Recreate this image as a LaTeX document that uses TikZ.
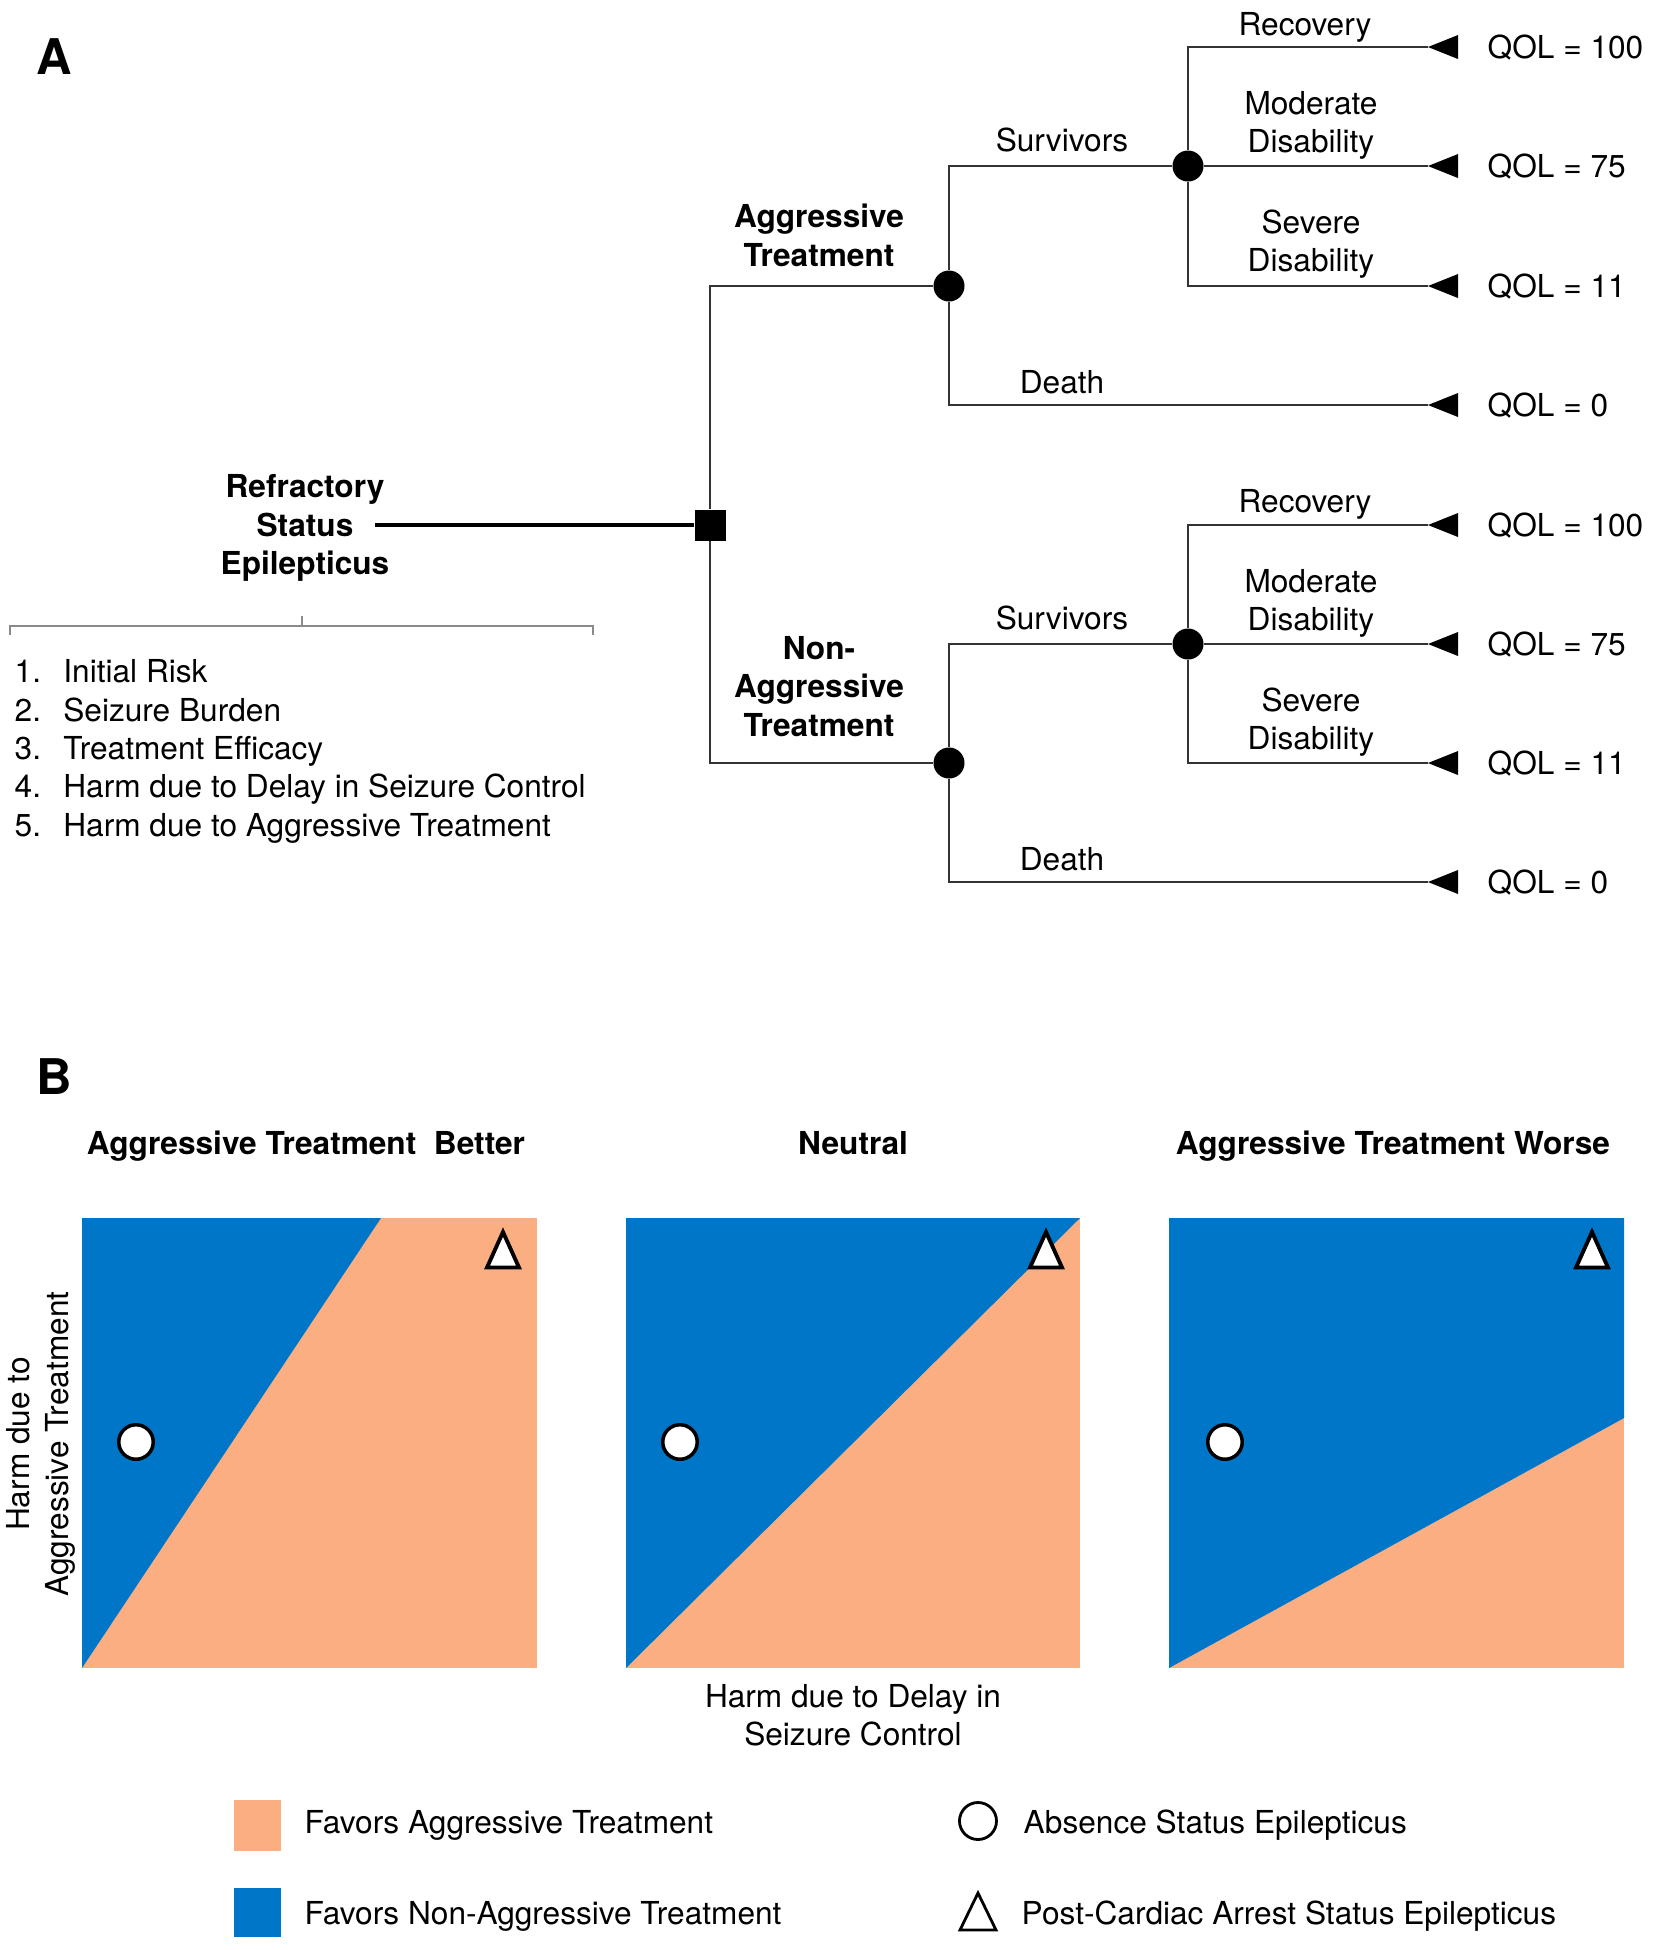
\documentclass[tikz,border=0pt]{standalone}
\usepackage{fontspec}
\setmainfont{TeX Gyre Heros}

\definecolor{favagg}{HTML}{FCAE83}
\definecolor{favnon}{HTML}{0076C8}
\definecolor{linegray}{HTML}{333333}
\definecolor{bracketgray}{HTML}{8A8A8A}

\begin{document}
\begin{tikzpicture}[
    lbl/.style={font=\fontsize{9}{10.9}\selectfont, inner sep=0pt},
    blbl/.style={font=\fontsize{9}{10.9}\selectfont\bfseries, inner sep=0pt},
    plabel/.style={font=\fontsize{14}{16}\selectfont\bfseries, inner sep=0pt},
    decision/.style={rectangle, fill=black, minimum size=0.31cm, inner sep=0pt},
    chance/.style={circle, fill=black, minimum size=0.31cm, inner sep=0pt},
    arm/.style={draw=linegray, line width=0.6pt},
    rootline/.style={draw=black, line width=1pt},
    bracket/.style={draw=bracketgray, line width=0.45pt},
    pcircle/.style={circle, draw=black, fill=white, line width=1pt, minimum size=0.345cm, inner sep=0pt},
    ptri/.style={draw=black, fill=white, line width=1.1pt},
    lcircle/.style={circle, draw=black, line width=0.8pt, minimum size=0.37cm, inner sep=0pt},
    ltri/.style={draw=black, line width=0.8pt}
]
            \useasboundingbox (0,0) rectangle (16.57,-19.50);

            % Panel A
            \node[plabel] (lblA) at (0.54,-0.57) {A};

            % Root and decision node
            \node[blbl, align=center] (rse) at (3.05,-5.28) {Refractory\\Status\\Epilepticus};
            \node[decision] (dec) at (7.10,-5.25) {};
            \coordinate (rseout) at ([xshift=-1.5mm]rse.east |- dec);

            % Chance nodes
            \node[chance] (agg) at (9.49,-2.86) {};
            \node[chance] (aggsurv) at (11.88,-1.66) {};
            \node[chance] (non) at (9.49,-7.63) {};
            \node[chance] (nonsurv) at (11.88,-6.44) {};

            % Terminal points
            \coordinate (aggrec) at (14.28,-0.47);
            \coordinate (aggmod) at (14.28,-1.66);
            \coordinate (aggsev) at (14.28,-2.86);
            \coordinate (aggdth) at (14.28,-4.05);
            \coordinate (nonrec) at (14.28,-5.25);
            \coordinate (nonmod) at (14.28,-6.44);
            \coordinate (nonsev) at (14.28,-7.63);
            \coordinate (nondth) at (14.28,-8.82);

            % Branches
            \draw[rootline] (rseout) -- (dec);
            \draw[arm] (dec) |- (agg);
            \draw[arm] (dec) |- (non);

            \draw[arm] (agg) |- (aggsurv);
            \draw[arm] (agg) |- (aggdth);
            \draw[arm] (aggsurv) |- (aggrec);
            \draw[arm] (aggsurv) -- (aggmod);
            \draw[arm] (aggsurv) |- (aggsev);

            \draw[arm] (non) |- (nonsurv);
            \draw[arm] (non) |- (nondth);
            \draw[arm] (nonsurv) |- (nonrec);
            \draw[arm] (nonsurv) -- (nonmod);
            \draw[arm] (nonsurv) |- (nonsev);

            % Terminal triangles
            \fill (aggrec) -- ++(0.30,0.12) -- ++(0,-0.24) -- cycle;
            \fill (aggmod) -- ++(0.30,0.12) -- ++(0,-0.24) -- cycle;
            \fill (aggsev) -- ++(0.30,0.12) -- ++(0,-0.24) -- cycle;
            \fill (aggdth) -- ++(0.30,0.12) -- ++(0,-0.24) -- cycle;
            \fill (nonrec) -- ++(0.30,0.12) -- ++(0,-0.24) -- cycle;
            \fill (nonmod) -- ++(0.30,0.12) -- ++(0,-0.24) -- cycle;
            \fill (nonsev) -- ++(0.30,0.12) -- ++(0,-0.24) -- cycle;
            \fill (nondth) -- ++(0.30,0.12) -- ++(0,-0.24) -- cycle;

            % Branch labels
            \node[blbl, anchor=south, align=center] (laggtx) at (8.19,-2.67) {Aggressive\\Treatment};
            \node[lbl, anchor=base] (laggsur) at (10.62,-1.51) {Survivors};
            \node[lbl, anchor=base] (laggdth) at (10.62,-3.93) {Death};
            \node[lbl, anchor=base] (laggrec) at (13.05,-0.35) {Recovery};
            \node[lbl, anchor=south, align=center] (laggmod) at (13.11,-1.60) {Moderate\\Disability};
            \node[lbl, anchor=south, align=center] (laggsev) at (13.11,-2.79) {Severe\\Disability};

            \node[blbl, anchor=south, align=center] (lnontx) at (8.19,-7.37) {Non-\\Aggressive\\Treatment};
            \node[lbl, anchor=base] (lnonsur) at (10.62,-6.29) {Survivors};
            \node[lbl, anchor=base] (lnondth) at (10.62,-8.70) {Death};
            \node[lbl, anchor=base] (lnonrec) at (13.05,-5.12) {Recovery};
            \node[lbl, anchor=south, align=center] (lnonmod) at (13.11,-6.38) {Moderate\\Disability};
            \node[lbl, anchor=south, align=center] (lnonsev) at (13.11,-7.57) {Severe\\Disability};

            % Outcomes
            \node[lbl, anchor=base west] (q1) at (14.87,-0.58) {QOL = 100};
            \node[lbl, anchor=base west] (q2) at (14.87,-1.77) {QOL = 75};
            \node[lbl, anchor=base west] (q3) at (14.87,-2.97) {QOL = 11};
            \node[lbl, anchor=base west] (q4) at (14.87,-4.16) {QOL = 0};
            \node[lbl, anchor=base west] (q5) at (14.87,-5.36) {QOL = 100};
            \node[lbl, anchor=base west] (q6) at (14.87,-6.55) {QOL = 75};
            \node[lbl, anchor=base west] (q7) at (14.87,-7.74) {QOL = 11};
            \node[lbl, anchor=base west] (q8) at (14.87,-8.93) {QOL = 0};

            % Bracket and factor list
            \draw[bracket] (0.10,-6.35) -- (0.10,-6.26) -- (5.93,-6.26) -- (5.93,-6.35);
            \draw[bracket] (3.02,-6.26) -- (3.02,-6.16);
            \node[lbl, anchor=north west, align=left] (factors) at (0.14,-6.59) {%
                \makebox[1.54em][l]{1.}Initial Risk\\
                \makebox[1.54em][l]{2.}Seizure Burden\\
                \makebox[1.54em][l]{3.}Treatment Efficacy\\
                \makebox[1.54em][l]{4.}Harm due to Delay in Seizure Control\\
                \makebox[1.54em][l]{5.}Harm due to Aggressive Treatment};

            % Panel B
            \node[plabel] (lblB) at (0.54,-10.77) {B};
            \node[blbl, anchor=base] (tbetter) at (3.06,-11.54) {Aggressive Treatment\ \ Better};
            \node[blbl, anchor=base] (tneutral) at (8.53,-11.54) {Neutral};
            \node[blbl, anchor=base] (tworse) at (13.93,-11.54) {Aggressive Treatment Worse};

            % Regions
            \fill[favagg] (0.82,-12.18) rectangle (5.37,-16.68);
            \fill[favnon] (0.82,-16.68) -- (0.82,-12.18) -- (3.81,-12.18) -- cycle;
            \fill[favagg] (6.26,-12.18) rectangle (10.80,-16.68);
            \fill[favnon] (6.26,-16.68) -- (6.26,-12.18) -- (10.80,-12.18) -- cycle;
            \fill[favagg] (11.69,-12.18) rectangle (16.24,-16.68);
            \fill[favnon] (11.69,-16.68) -- (11.69,-12.18) -- (16.24,-12.18) -- (16.24,-14.18) -- cycle;

            % Markers
            \node[pcircle] (abs1) at (1.36,-14.42) {};
            \node[pcircle] (abs2) at (6.80,-14.42) {};
            \node[pcircle] (abs3) at (12.25,-14.42) {};
            \draw[ptri] (5.03,-12.32) -- ++(0.16,-0.355) -- ++(-0.32,0) -- cycle;
            \draw[ptri] (10.46,-12.32) -- ++(0.16,-0.355) -- ++(-0.32,0) -- cycle;
            \draw[ptri] (15.92,-12.32) -- ++(0.16,-0.355) -- ++(-0.32,0) -- cycle;

            % Axis labels
            \node[lbl, rotate=90, align=center] (ylab) at (0.41,-14.44) {Harm due to\\Aggressive Treatment};
            \node[lbl, align=center] (xlab) at (8.53,-17.15) {Harm due to Delay in\\Seizure Control};

            % Legend
            \fill[favagg] (2.34,-18.00) rectangle (2.81,-18.51);
            \fill[favnon] (2.34,-18.88) rectangle (2.81,-19.37);
            \node[lbl, anchor=base west] (lgagg) at (3.04,-18.33) {Favors Aggressive Treatment};
            \node[lbl, anchor=base west] (lgnon) at (3.04,-19.24) {Favors Non-Aggressive Treatment};
            \node[lcircle] (lgabs) at (9.78,-18.21) {};
            \draw[ltri] (9.78,-18.93) -- ++(0.18,-0.37) -- ++(-0.36,0) -- cycle;
            \node[lbl, anchor=base west] (lgabstx) at (10.23,-18.33) {Absence Status Epilepticus};
            \node[lbl, anchor=base west] (lgpcse) at (10.21,-19.24) {Post-Cardiac Arrest Status Epilepticus};
\end{tikzpicture}
\end{document}
